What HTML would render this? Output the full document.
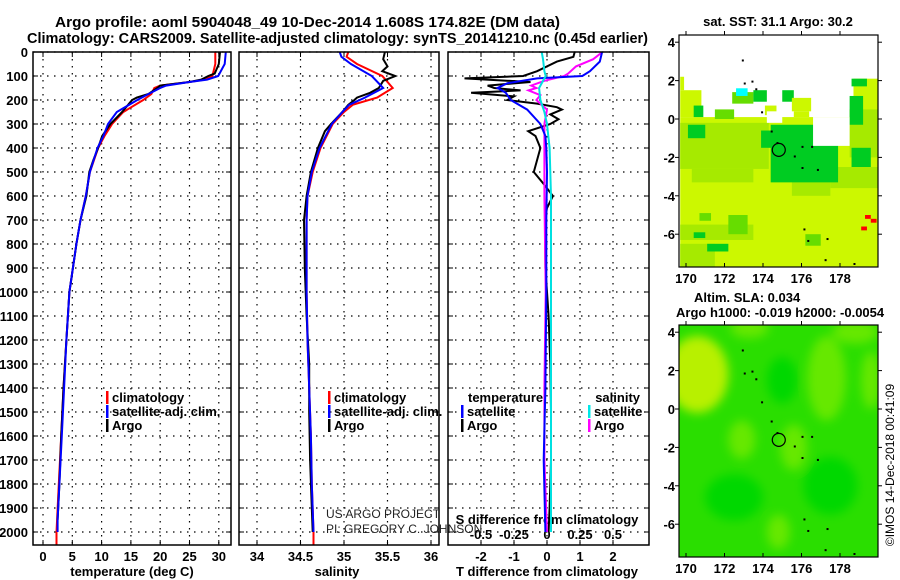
<!DOCTYPE html>
<html><head><meta charset="utf-8">
<style>
html,body{margin:0;padding:0;background:#fff;}
svg{display:block;font-family:"Liberation Sans",sans-serif;}
.b{font-weight:bold;}
</style></head>
<body>
<svg id="fig" width="900" height="580" viewBox="0 0 900 580" xmlns="http://www.w3.org/2000/svg">
<g id="titles" class="b">
<text x="55" y="27" font-size="15" textLength="505" lengthAdjust="spacingAndGlyphs">Argo profile: aoml 5904048_49 10-Dec-2014 1.608S 174.82E (DM data)</text>
<text x="27" y="43" font-size="14.5" textLength="621" lengthAdjust="spacingAndGlyphs">Climatology: CARS2009. Satellite-adjusted climatology: synTS_20141210.nc (0.45d earlier)</text>
</g>
<g id="layer"></g>
</svg>
<script>
// ---------- data ----------
const depthTicks=[0,100,200,300,400,500,600,700,800,900,1000,1100,1200,1300,1400,1500,1600,1700,1800,1900,2000];
const tempTicks=[0,5,10,15,20,25,30];
const salTicks=[34,34.5,35,35.5,36];
const tdiffTicks=[-2,-1,0,1,2];
const sdiffTicks=[-0.5,-0.25,0,0.25,0.5];
const sdiffLabels=["-0.5","-0.25","0","0.25","0.5"];

const tClimDepth=[0,50,100,115,125,140,150,175,200,250,300,350,400,500,600,700,800,900,1000,1200,1400,1600,1800,2000,2055];
const tClimVal=[29.4,29.4,28.9,27.5,25,20,19,18.5,17.1,13.7,11.8,10.5,9.4,8.0,7.3,6.4,5.7,5.1,4.5,4.0,3.5,3.1,2.7,2.3,2.3];
const tSatDepth=[0,50,100,115,125,140,150,175,200,250,300,350,400,500,600,700,800,900,1000,1200,1400,1600,1800,1950,2000];
const tSatVal=[31.2,31.0,29.9,28,25,21,20,18,16.1,12.6,11.1,10.3,9.3,8.0,7.3,6.4,5.7,5.1,4.5,4.0,3.6,3.2,2.8,2.5,2.5];
const tArgoDepth=[0,50,90,100,115,125,140,150,175,190,200,250,300,350,400,450,500,600,700,800,900,1000,1200,1400,1600,1800,1950];
const tArgoVal=[30.2,30.0,29.3,28.2,27,25,20,19.5,18,16,15.2,13.5,11.5,10.1,9.4,8.6,7.9,7.4,6.4,5.7,5.1,4.5,4.0,3.5,3.1,2.8,2.5];

const sClimDepth=[0,20,50,100,150,190,220,250,300,400,500,600,700,800,1000,1200,1400,1600,1800,2000,2055];
const sClimVal=[35.05,35.03,35.15,35.44,35.56,35.38,35.1,35.0,34.87,34.73,34.64,34.58,34.57,34.57,34.57,34.58,34.6,34.62,34.63,34.65,34.65];
const sSatDepth=[0,20,50,100,150,190,220,250,300,400,500,600,700,800,1000,1200,1400,1600,1800,2000];
const sSatVal=[34.95,34.97,35.08,35.32,35.45,35.24,35.06,34.98,34.86,34.72,34.63,34.58,34.57,34.57,34.57,34.58,34.6,34.62,34.63,34.65];
const sArgoDepth=[0,30,60,80,100,120,150,170,190,200,220,250,300,330,400,500,600,700,900,1100,1300,1500,1700,1900,2000];
const sArgoVal=[35.47,35.45,35.5,35.44,35.59,35.45,35.4,35.3,35.15,35.12,35.05,34.98,34.85,34.78,34.7,34.62,34.57,34.54,34.55,34.57,34.6,34.6,34.61,34.63,34.64];

const dTSatDepth=[0,40,80,100,110,130,150,170,200,240,300,350,400,500,700,1000,1400,1700,2000];
const dTSatVal=[1.67,1.6,1.3,1.07,-0.3,-1.2,-1.5,-1.25,-1.1,-0.6,-0.2,-0.05,-0.02,0,-0.02,-0.02,-0.05,-0.1,-0.05];
const dTArgoDepth=[0,20,40,80,100,110,125,140,150,160,170,185,200,215,230,240,260,280,300,330,350,400,450,500,550,600,650,700,900,1100,1300,1500,1700,1900,2000];
const dTArgoVal=[0.84,0.8,0.3,-0.3,-0.72,-2.5,-0.5,-1.8,-1.6,-0.8,-2.3,-1.0,-1.2,-0.3,0.3,0.45,0.1,0.35,0.1,-0.57,-0.35,-0.2,-0.3,-0.4,-0.1,0.18,0.0,-0.06,-0.05,0.05,0.1,0.12,0.12,0.08,0.05];
const dSSatDepth=[0,30,80,100,150,200,250,300,400,600,1000,1400,1700,2000];
const dSSatVal=[-0.04,-0.03,-0.02,-0.01,-0.06,-0.05,-0.02,0.0,0.02,0.03,0.03,0.03,0.03,0.03];
const dSArgoDepth=[0,30,60,90,100,120,140,150,160,180,200,240,300,400,600,1000,1400,1700,2000];
const dSArgoVal=[0.42,0.35,0.22,0.16,0.13,-0.02,-0.12,-0.08,-0.14,-0.05,-0.08,0.0,-0.02,-0.02,-0.02,-0.01,-0.02,-0.02,0.0];

const lonTicks=[170,172,174,176,178];
const latTicks=[4,2,0,-2,-4,-6];
const argoLon=174.82, argoLat=-1.608;
// SST blocks: [lon0,lat0,lon1,lat1,colorIndex]
const sstBlocks=[[169.7,0.1,180,-7.7,0],[169.7,1.5,170.8,0.1,0],[170,1.4,170.7,0.9,0],[178.7,2.1,180,0.1,0],
[169.7,2.2,169.9,1.5,0],[169.7,-0.2,174.3,-2.6,6],[170.3,-2.6,173.5,-3.3,6],[175.5,-3.0,177.5,-4.0,6],[177.5,-2.5,180,-3.6,6],[178.5,0.5,180,-2.0,6],
[169.7,-5.5,173.5,-6.3,6],[169.7,-6.5,171.5,-7.7,6],
[172.4,1.4,173.5,0.8,1],[173.5,1.5,174.2,0.9,2],[175.0,1.5,175.6,0.9,2],[175.5,1.1,176.5,0.4,0],
[174.1,0.7,174.7,0.2,0],[175.6,0.4,176.4,0.1,0],[172.6,1.6,173.2,1.2,3],[170.4,0.7,170.9,0.1,2],[171.5,0.5,172.5,0.0,1],
[174.4,-0.3,177.9,-3.3,2],[173.9,-0.6,175.2,-1.5,2],[170.1,-0.3,171.0,-1.0,2],[178.6,2.1,179.4,1.7,2],[178.5,1.2,179.2,-0.3,2],
[178.6,-1.5,179.6,-2.5,2],[176.6,0.1,178.5,-1.4,4],[174.2,0.4,175.0,-0.2,4],[170.7,-4.9,171.3,-5.3,1],
[172.2,-5.0,173.2,-6.0,1],[170.4,-5.9,171.0,-6.2,2],[171.1,-6.5,172.2,-6.9,2],[176.2,-6.0,177.0,-6.6,1],[179.3,-5.0,179.6,-5.2,5],[179.6,-5.2,179.9,-5.4,5],[179.1,-5.6,179.4,-5.8,5]];
const sstColors=["#ccf800","#66dd00","#00cc22","#00ffff","#ffffff","#ff0000","#a6ea00"];
// altimetry blobs: [lon, lat, rx(deg), ry(deg), colorIndex]
const slaBlobs=[[170.6,1.8,1.6,2.0,0],[177.3,1.6,1.0,2.2,1],[172.9,-1.6,0.7,1.0,1],[175.6,-2.0,0.7,1.2,1],[173.3,4.2,1.0,0.5,1],[174.8,-6.4,0.6,0.9,1],[178.8,4.0,1.2,0.6,1],[179.6,1.5,0.5,1.5,1],[172.5,-4.6,1.5,1.2,2],[175,1.5,0.8,1.2,2],[177.5,-4,1.4,1.5,2]];
const slaColors=["#b8f000","#66e800","#00d800"];
const dotsLon=[172.9,173.0,173.4,173.6,173.9,174.4,174.7,175.6,176.0,176.5,176.0,176.8,176.1,176.3,177.3,177.2,178.7];
const dotsLat=[3.1,1.9,2.0,1.6,0.4,-0.6,-1.2,-1.9,-1.4,-1.4,-2.5,-2.6,-5.7,-6.3,-6.2,-7.3,-7.5];

// ---------- helpers ----------
const NS="http://www.w3.org/2000/svg";
const layer=document.getElementById('layer');
function mk(tag,attrs,parent){const e=document.createElementNS(NS,tag);for(const k in attrs)e.setAttribute(k,attrs[k]);(parent||layer).appendChild(e);return e;}
const Y0=52, PB=545;
function yD(d){return Y0+d*0.24;}
function xT(t){return 43+t*5.86;}
function xS(s){return 257+(s-34)*87;}
function xDT(v){return 547+v*33;}
function xDS(v){return 547+v*132;}
const panels=[{x0:33,x1:231},{x0:239,x1:439},{x0:448,x1:649}];

function line(ds,vs,fx,color,name,w){
  let d='';
  for(let i=0;i<ds.length;i++){d+=(i?'L':'M')+fx(vs[i]).toFixed(1)+','+yD(ds[i]).toFixed(1);}
  const p=mk('path',{d:d,fill:'none',stroke:color,'stroke-width':w||2,'stroke-linejoin':'miter'});
  
  
}
function text(x,y,s,opt,name){
  const t=mk('text',Object.assign({x:x,y:y},opt||{}));t.textContent=s;
  
  
  return t;
}

// ---------- profile panels ----------
panels.forEach((p,pi)=>{
  const g=mk('g',{});
  
  
  depthTicks.forEach(d=>{
    mk('line',{x1:p.x0,x2:p.x1,y1:yD(d),y2:yD(d),stroke:'#000','stroke-width':1.2,'stroke-dasharray':'1.5,5.5'},g);
    mk('line',{x1:p.x0,x2:p.x0+5,y1:yD(d),y2:yD(d),stroke:'#000'},g);
    mk('line',{x1:p.x1-5,x2:p.x1,y1:yD(d),y2:yD(d),stroke:'#000'},g);
  });
  p.g=g;
});
function vgrid(p,vals,fx){vals.forEach(v=>{const x=fx(v);
  mk('line',{x1:x,x2:x,y1:Y0,y2:PB,stroke:'#000','stroke-width':1.2,'stroke-dasharray':'1.5,5.5'},p.g);
  mk('line',{x1:x,x2:x,y1:PB-5,y2:PB,stroke:'#000'},p.g);mk('line',{x1:x,x2:x,y1:Y0,y2:Y0+5,stroke:'#000'},p.g);});}
vgrid(panels[0],tempTicks,xT);vgrid(panels[1],salTicks,xS);vgrid(panels[2],tdiffTicks,xDT);

depthTicks.forEach(d=>text(28,yD(d)+5,String(d),{'text-anchor':'end','font-size':13,'font-weight':'bold'},'depth-tick-label'));
tempTicks.forEach(v=>text(xT(v),561,String(v),{'text-anchor':'middle','font-size':13,'font-weight':'bold'},'temperature-tick-label'));
salTicks.forEach(v=>text(xS(v),561,String(v),{'text-anchor':'middle','font-size':13,'font-weight':'bold'},'salinity-tick-label'));
tdiffTicks.forEach(v=>text(xDT(v),561,String(v),{'text-anchor':'middle','font-size':13,'font-weight':'bold'},'t-difference-tick-label'));
sdiffTicks.forEach((v,i)=>text(xDS(v),539,sdiffLabels[i],{'text-anchor':'middle','font-size':13,'font-weight':'bold'},'s-difference-tick-label'));
text(132,576,'temperature (deg C)',{'text-anchor':'middle','font-size':13,'font-weight':'bold'},'temperature-axis-title');
text(337,576,'salinity',{'text-anchor':'middle','font-size':13,'font-weight':'bold'},'salinity-axis-title');
text(547,576,'T difference from climatology',{'text-anchor':'middle','font-size':13,'font-weight':'bold'},'t-difference-axis-title');
text(547,524,'S difference from climatology',{'text-anchor':'middle','font-size':13,'font-weight':'bold'},'s-difference-axis-title');

// series
line(tClimDepth,tClimVal,xT,'#ff0000','temperature-climatology-line');
line(tArgoDepth,tArgoVal,xT,'#000000','temperature-argo-line');
line(tSatDepth,tSatVal,xT,'#0000ff','temperature-satellite-line');
line(sClimDepth,sClimVal,xS,'#ff0000','salinity-climatology-line');
line(sArgoDepth,sArgoVal,xS,'#000000','salinity-argo-line');
line(sSatDepth,sSatVal,xS,'#0000ff','salinity-satellite-line');
line(dTArgoDepth,dTArgoVal,xDT,'#000000','t-difference-argo-line');
line(dSArgoDepth,dSArgoVal,xDS,'#ff00ff','s-difference-argo-line');
line(dTSatDepth,dTSatVal,xDT,'#0000ff','t-difference-satellite-line');
line(dSSatDepth,dSSatVal,xDS,'#00e0e0','s-difference-satellite-line');

panels.forEach(p=>mk('rect',{x:p.x0,y:Y0,width:p.x1-p.x0,height:PB-Y0,fill:'none',stroke:'#000','stroke-width':1.5}));

// legends
function legend(x,y,color,label,name){
  const r=mk('rect',{x:x,y:y-11,width:2.5,height:13,fill:color});
  
  
  text(x+6,y,label,{'font-size':13,'font-weight':'bold'},name);
}
legend(106,402,'#ff0000','climatology','legend-climatology');
legend(106,416,'#0000ff','satellite-adj. clim.','legend-satellite-adj');
legend(106,430,'#000000','Argo','legend-argo');
legend(328,402,'#ff0000','climatology','legend-salinity-climatology');
legend(328,416,'#0000ff','satellite-adj. clim.','legend-salinity-satellite-adj');
legend(328,430,'#000000','Argo','legend-salinity-argo');
text(468,402,'temperature',{'font-size':13,'font-weight':'bold'},'legend-temperature-heading');
legend(461,416,'#0000ff','satellite','legend-t-satellite');
legend(461,430,'#000000','Argo','legend-t-argo');
text(640,402,'salinity',{'font-size':13,'font-weight':'bold','text-anchor':'end'},'legend-salinity-heading');
legend(588,416,'#00e8e8','satellite','legend-s-satellite');
legend(588,430,'#ff00ff','Argo','legend-s-argo');
text(326,518,'US ARGO PROJECT',{'font-size':12,fill:'#222'},'project-credit');
text(326,533,'PI: GREGORY C. JOHNSON',{'font-size':12,fill:'#222'},'pi-credit');

// ---------- maps ----------
const maps=[{y0:35,y1:267,lat0:119,name:'sst-map'},{y0:325,y1:557,lat0:409,name:'sla-map'}];
const MX0=679,MX1=878;
function mx(lon){return 686+(lon-170)*19.25;}
function my(m,lat){return m.lat0-lat*19.2;}
const defs=mk('defs',{});
const clip=mk('clipPath',{id:'c0'},defs);mk('rect',{x:MX0,y:maps[0].y0,width:MX1-MX0,height:maps[0].y1-maps[0].y0},clip);
const clip2=mk('clipPath',{id:'c1'},defs);mk('rect',{x:MX0,y:maps[1].y0,width:MX1-MX0,height:maps[1].y1-maps[1].y0},clip2);
const blur=mk('filter',{id:'bl',x:'-50%',y:'-50%',width:'200%',height:'200%'},defs);mk('feGaussianBlur',{stdDeviation:5},blur);

maps.forEach((m,mi)=>{
  const g=mk('g',{'clip-path':'url(#c'+mi+')'});
  
  
  if(mi===0){
    mk('rect',{x:MX0,y:m.y0,width:MX1-MX0,height:m.y1-m.y0,fill:'#fff'},g);
    sstBlocks.forEach(b=>{const r=mk('rect',{x:mx(b[0]),y:my(m,b[1]),width:mx(b[2])-mx(b[0]),height:my(m,b[3])-my(m,b[1]),fill:sstColors[b[4]]},g);
      
      });
  } else {
    mk('rect',{x:MX0,y:m.y0,width:MX1-MX0,height:m.y1-m.y0,fill:'#2ade00'},g);
    const bg=mk('g',{filter:'url(#bl)'},g);
    slaBlobs.forEach(b=>{const e=mk('ellipse',{cx:mx(b[0]),cy:my(m,b[1]),rx:b[2]*19.25,ry:b[3]*19.2,fill:slaColors[b[4]]},bg);
      
      });
  }
  dotsLon.forEach((lo,i)=>mk('rect',{x:mx(lo),y:my(m,dotsLat[i]),width:2,height:2,fill:'#000'},g));
  const c=mk('circle',{cx:mx(argoLon),cy:my(m,argoLat),r:6.5,fill:'none',stroke:'#000','stroke-width':1.2});
  
  
  mk('rect',{x:MX0,y:m.y0,width:MX1-MX0,height:m.y1-m.y0,fill:'none',stroke:'#000','stroke-width':1.2});
  lonTicks.forEach(lo=>{mk('line',{x1:mx(lo),x2:mx(lo),y1:m.y1,y2:m.y1-4,stroke:'#000'});mk('line',{x1:mx(lo),x2:mx(lo),y1:m.y0,y2:m.y0-4,stroke:'#000'});
    text(mx(lo),m.y1+16,String(lo),{'text-anchor':'middle','font-size':13,'font-weight':'bold'},'map-lon-tick-label');});
  latTicks.forEach(la=>{mk('line',{x1:MX0-4,x2:MX0,y1:my(m,la),y2:my(m,la),stroke:'#000'});mk('line',{x1:MX1,x2:MX1+4,y1:my(m,la),y2:my(m,la),stroke:'#000'});
    text(675,my(m,la)+5,String(la),{'text-anchor':'end','font-size':13,'font-weight':'bold'},'map-lat-tick-label');});
});
text(778,26,'sat. SST: 31.1 Argo: 30.2',{'text-anchor':'middle','font-size':13,'font-weight':'bold'},'sst-map-title');
text(694,302,'Altim. SLA: 0.034',{'font-size':13,'font-weight':'bold'},'sla-map-title');
text(676,317,'Argo h1000: -0.019 h2000: -0.0054',{'font-size':13,'font-weight':'bold'},'sla-map-subtitle');
const cr=text(0,0,'©IMOS 14-Dec-2018 00:41:09',{'font-size':12,'text-anchor':'middle',transform:'translate(894,465) rotate(-90)'},'imos-copyright');
</script>
</body></html>
